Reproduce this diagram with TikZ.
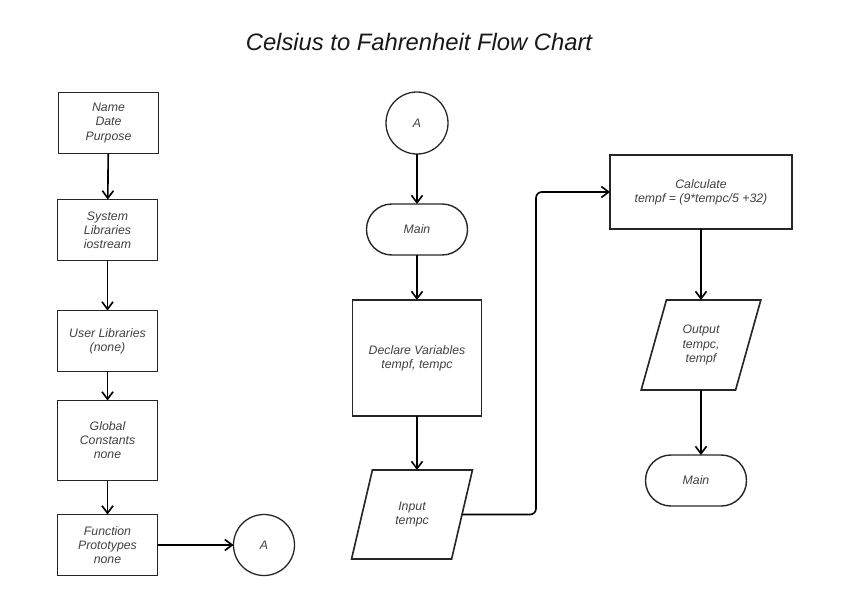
\documentclass[tikz,border=0pt]{standalone}
\usepackage{fontspec}
\setmainfont{Liberation Sans}
\usetikzlibrary{positioning, calc, arrows.meta, shapes.geometric}

\begin{document}
\begin{tikzpicture}[
	box/.style={rectangle, draw=black!85, line width=1.4pt, inner sep=1pt, outer sep=0pt, minimum width=30mm, minimum height=18.3mm, align=center, font=\itshape\fontsize{10.5}{12}\selectfont, text=black!75},
	term/.style={box, rounded corners=7.6mm, line width=1.2pt, minimum width=30.3mm, minimum height=15.3mm},
	io/.style={box, trapezium, trapezium left angle=71, trapezium right angle=109, trapezium stretches=true, minimum width=36.3mm, minimum height=26.7mm},
	conn/.style={circle, draw=black!85, line width=1.1pt, outer sep=0pt, minimum size=18.3mm, inner sep=0pt, font=\itshape\fontsize{10.5}{12}\selectfont, text=black!75},
	>={Straight Barb[length=2.2mm, width=3.3mm]}
]

\useasboundingbox (0,0) rectangle (25.89,-17.85);

\node[font=\itshape\fontsize{20.3}{24}\selectfont, text=black!90] (title) at (12.57,-1.25) {Celsius to Fahrenheit Flow Chart};

% left column
\node[box] (name) at (3.255,-3.69) {Name\\Date\\Purpose};
\node[box, below=13.8mm of name, xshift=-0.3mm] (syslib) {System\\Libraries\\iostream};
\node[box, below=15mm of syslib] (userlib) {User Libraries\\(none)};
\node[box, below=8.7mm of userlib, minimum height=24mm] (global) {Global\\Constants\\none};
\node[box, below=10.2mm of global] (proto) {Function\\Prototypes\\none};
\node[conn, right=22.8mm of proto] (aout) {A};

% middle column
\node[conn, minimum size=18.6mm] (ain) at (12.51,-3.69) {A};
\node[term, below=15mm of ain] (main) {Main};
\node[box, below=13.5mm of main, minimum width=38.7mm, minimum height=34.8mm] (declare) {Declare Variables\\tempf, tempc};
\node[io, below=16.2mm of declare, xshift=-1.5mm] (input) {Input\\tempc};

% right column
\node[box, minimum width=54.6mm, minimum height=22.2mm] (calc) at (21.03,-5.76) {Calculate\\tempf = (9*tempc/5 +32)};
\node[io, below=21.3mm of calc, minimum width=36mm, minimum height=27mm] (output) {Output\\tempc,\\tempf};
\node[term, below=19.5mm of output, xshift=-1.5mm] (main2) {Main};

\begin{scope}[line width=1.4pt, black]
\foreach \i/\j in {name/syslib, syslib/userlib, userlib/global, global/proto, ain/main, main/declare, calc/output}
	\draw[->] (\i) -- (\j);

\draw[->] (proto) -- (aout);
\draw[->] (declare.south) -- (declare.south |- input.north);
\draw[->] (output.south) -- (output.south |- main2.north);

\draw[->, rounded corners=5pt] (input.east) -| ($(input.east)!0.5!(calc.west)$) |- (calc.west);
\end{scope}

\end{tikzpicture}
\end{document}
